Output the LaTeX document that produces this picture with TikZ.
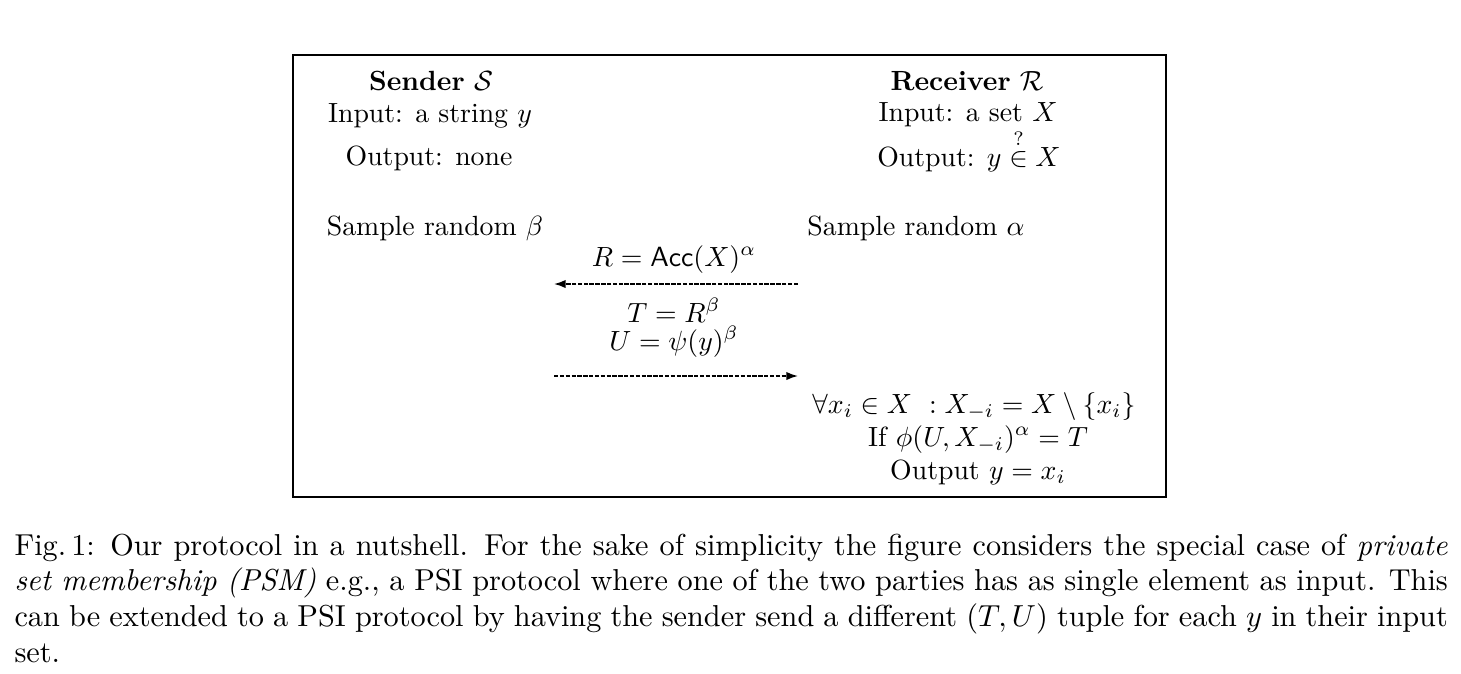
\documentclass[tikz,border=0pt]{standalone}
\usepackage{amsmath,amssymb}
\usetikzlibrary{arrows.meta}
\begin{document}
\begin{tikzpicture}[x=0.36pt,y=-0.36pt,
  txt/.style={anchor=base,inner sep=0pt},
  msg/.style={line width=0.55pt, dash pattern=on 1.6pt off 0.5pt, -{Latex[length=4.2pt,width=3pt]}}]
\useasboundingbox (0,0) rectangle (1461,673);
\coordinate (boxnw) at (293,55);
\coordinate (boxse) at (1166,497);
\draw[line width=0.4pt] (boxnw) rectangle (boxse);
% sender column
\node[txt] (sname) at (431,90) {\textbf{Sender} $\mathcal{S}$};
\node[txt] (sin) at (430,122) {Input: a string $y$};
\node[txt] (sout) at (429,165) {Output: none};
% receiver column
\node[txt] (rname) at (967,90) {\textbf{Receiver} $\mathcal{R}$};
\node[txt] (rin) at (968,121) {Input: a set $X$};
\node[txt] (rout) at (969,166) {Output: $y \overset{?}{\in} X$};
% sampling
\node[txt] (sbeta) at (435,235) {Sample random $\beta$};
\node[txt] (ralpha) at (916,235) {Sample random $\alpha$};
% messages
\node[txt] (m1) at (674,266) {$R = \mathsf{Acc}(X)^{\alpha}$};
\coordinate (a1s) at (798,284);
\coordinate (a1e) at (554,284);
\draw[msg] (a1s) -- (a1e);
\node[txt] (m2) at (674,322) {$T = R^{\beta}$};
\node[txt] (m3) at (674,350) {$U = \psi(y)^{\beta}$};
\coordinate (a2s) at (554,376);
\coordinate (a2e) at (798,376);
\draw[msg] (a2s) -- (a2e);
% receiver check
\node[txt] (c1) at (974,413) {$\forall x_i \in X\ : X_{-i} = X \setminus \{x_i\}$};
\node[txt] (c2) at (978,446) {If $\phi(U, X_{-i})^{\alpha} = T$};
\node[txt] (c3) at (978,479) {Output $y = x_i$};
% caption
\node[anchor=base west,inner sep=0pt] (cap) at (14,555) {\parbox[t]{516pt}{\fontsize{10.9}{12.95}\selectfont
Fig.\,1: Our protocol in a nutshell. For the sake of simplicity the figure considers the special case of \emph{private}\linebreak
\emph{set membership (PSM)} e.g., a PSI protocol where one of the two parties has as single element as input. This\linebreak
can be extended to a PSI protocol by having the sender send a different $(T,U)$ tuple for each $y$ in their input\linebreak
set.}};
\end{tikzpicture}
\end{document}
